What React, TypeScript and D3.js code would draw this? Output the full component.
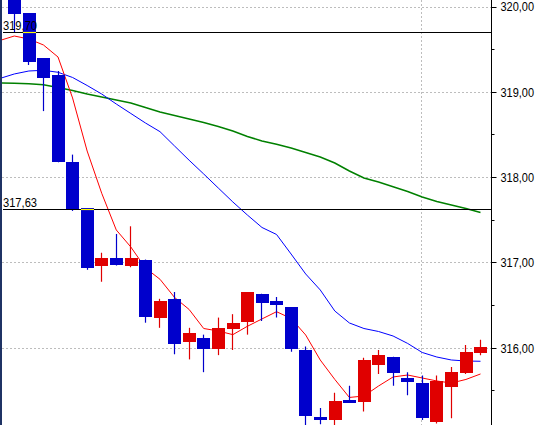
import React from "react";
import * as d3 from "d3";

const W = 539;
const H = 425;

// OHLC, one entry per visible candle (oldest first)
const opens = [
  320.2, 319.93, 319.4, 319.2, 318.18, 317.64, 316.96, 317.06, 316.96, 317.04,
  316.35, 316.58, 316.07, 316.12, 315.99, 316.23, 316.31, 316.64, 316.55, 316.48,
  315.98, 315.2, 315.16, 315.39, 315.37, 315.8, 315.9, 315.65, 315.59, 315.14,
  315.55, 315.71, 315.95,
];
const highs = [
  320.3, 319.93, 319.4, 319.25, 318.27, 317.64, 317.12, 317.34, 317.43, 317.04,
  316.58, 316.66, 316.24, 316.16, 316.36, 316.4, 316.66, 316.64, 316.6, 316.48,
  316.02, 315.3, 315.48, 315.56, 315.89, 315.98, 315.9, 315.72, 315.68, 315.68,
  315.78, 316.04, 316.1,
];
const lows = [
  319.7, 319.32, 318.78, 318.18, 317.61, 316.92, 316.78, 316.97, 316.95, 316.3,
  316.24, 315.93, 315.87, 315.72, 315.92, 315.98, 316.16, 316.32, 316.36, 315.96,
  315.08, 315.11, 315.08, 315.36, 315.26, 315.7, 315.56, 315.45, 315.16, 315.12,
  315.18, 315.7, 315.92,
];
const closes = [
  319.92, 319.36, 319.17, 318.18, 317.63, 316.94, 317.06, 316.98, 317.06, 316.37,
  316.55, 316.05, 316.18, 315.99, 316.24, 316.3, 316.66, 316.53, 316.51, 315.99,
  315.21, 315.16, 315.38, 315.36, 315.86, 315.92, 315.71, 315.61, 315.18, 315.62,
  315.72, 315.96, 316.02,
];

// Moving averages, first value belongs to the candle just before the visible window
const maStartIndex = -1;
const maFast = [
  319.607, 319.66, 319.625, 319.555, 319.414, 318.934, 318.312, 317.817, 317.387,
  317.187, 316.941, 316.809, 316.596, 316.455, 316.232, 316.203, 316.16, 316.258,
  316.344, 316.429, 316.35, 316.156, 315.863, 315.635, 315.424, 315.441, 315.558,
  315.664, 315.687, 315.652, 315.617, 315.593, 315.635, 315.699,
];
const maMid = [
  319.162, 319.215, 319.25, 319.258, 319.235, 319.174, 319.08, 318.98, 318.863,
  318.752, 318.641, 318.539, 318.371, 318.204, 318.043, 317.879, 317.715, 317.562,
  317.416, 317.334, 317.105, 316.871, 316.684, 316.437, 316.297, 316.232, 316.197,
  316.144, 316.057, 315.951, 315.898, 315.863, 315.851, 315.848,
];
const maSlow = [
  319.109, 319.106, 319.1, 319.089, 319.057, 319.021, 318.98, 318.945, 318.91,
  318.875, 318.822, 318.77, 318.728, 318.687, 318.646, 318.6, 318.547, 318.482,
  318.43, 318.391, 318.348, 318.295, 318.242, 318.172, 318.078, 317.996, 317.949,
  317.894, 317.838, 317.773, 317.721, 317.68, 317.639, 317.592,
];

const yTicks = [320, 319, 318, 317, 316];
const yTickLabels = ["320,00", "319,00", "318,00", "317,00", "316,00"];
const yMinorTicks = [319.5, 318.5, 317.5, 316.5, 315.5];
const refLevels = [319.7, 317.63];
const refLabels = ["319,70", "317,63"];
const sessionBreakIndex = 28;

const BLUE = "#0000cc";
const RED = "#e00000";
const FONT = "'Liberation Sans', Arial, sans-serif";

export default function App() {
  const plotLeft = 2;
  const axisX = 491.5;
  const x = d3.scaleLinear().domain([0, 32]).range([14.3, 480.5]);
  const y = d3.scaleLinear().domain([316, 320]).range([348.3, 7]);
  const crisp = (v: number) => Math.round(v) + 0.5;

  const maLine = (vals: number[]) =>
    d3
      .line<number>()
      .x((_, i) => x(i + maStartIndex))
      .y((v) => y(v))(vals) || "";

  const candles = opens.map((o, i) => ({
    o,
    h: highs[i],
    l: lows[i],
    c: closes[i],
    i,
  }));

  return (
    <svg
      width={W}
      height={H}
      style={{ position: "absolute", left: 0, top: 0, display: "block", background: "#fff" }}
    >
      <defs>
        <clipPath id="plot">
          <rect x={plotLeft} y={0} width={axisX - plotLeft} height={H} />
        </clipPath>
      </defs>
      <rect x={0} y={0} width={W} height={H} fill="#fff" />

      <g clipPath="url(#plot)">
        {/* grid */}
        {yTicks.map((t) => (
          <line
            key={"g" + t}
            x1={plotLeft}
            x2={axisX}
            y1={crisp(y(t) - 0.5)}
            y2={crisp(y(t) - 0.5)}
            stroke="#bdbdbd"
            strokeDasharray="2,2"
          />
        ))}
        <line
          x1={crisp(x(sessionBreakIndex) - 1)}
          x2={crisp(x(sessionBreakIndex) - 1)}
          y1={0}
          y2={H}
          stroke="#bdbdbd"
          strokeDasharray="2,2"
        />

        {/* moving averages */}
        <path d={maLine(maSlow)} fill="none" stroke="#008000" strokeWidth={1.5} />
        <path d={maLine(maMid)} fill="none" stroke="#0000ff" strokeWidth={1} />
        <path d={maLine(maFast)} fill="none" stroke="#ff0000" strokeWidth={1} />

        {/* candles */}
        {candles.map((d) => {
          const col = d.c >= d.o ? RED : BLUE;
          const cx = crisp(x(d.i) - 0.5);
          const top = Math.round(y(Math.max(d.o, d.c)));
          const bot = Math.round(y(Math.min(d.o, d.c)));
          const left = Math.round(x(d.i) - 6.3);
          return (
            <g key={d.i}>
              <line x1={cx} x2={cx} y1={y(d.h)} y2={y(d.l)} stroke={col} strokeWidth={1.2} />
              <rect x={left} y={top} width={13} height={Math.max(2, bot - top)} fill={col} />
            </g>
          );
        })}

        {/* reference levels */}
        {refLevels.map((lv, k) => {
          const yy = crisp(y(lv) - 0.5);
          return (
            <g key={"r" + k}>
              <line x1={3} x2={axisX} y1={yy} y2={yy} stroke="#000" strokeWidth={1.2} />
              {candles
                .filter((d) => Math.min(d.o, d.c) < lv && Math.max(d.o, d.c) > lv)
                .map((d) => (
                  <line
                    key={"yx" + d.i}
                    x1={Math.round(x(d.i) - 6.3)}
                    x2={Math.round(x(d.i) - 6.3) + 13}
                    y1={yy}
                    y2={yy}
                    stroke="#ffff00"
                    strokeWidth={1.2}
                  />
                ))}
              <text
                x={3}
                y={yy - 2.5}
                fontFamily={FONT}
                fontSize={13}
                textLength={34}
                lengthAdjust="spacingAndGlyphs"
                fill="#000"
              >
                {refLabels[k]}
              </text>
            </g>
          );
        })}
      </g>

      {/* left border */}
      <rect x={0} y={0} width={2} height={H} fill="#1f3364" />

      {/* right axis */}
      <line x1={axisX} x2={axisX} y1={0} y2={H} stroke="#000" strokeWidth={1} />
      {yTicks.map((t, k) => (
        <g key={"t" + t}>
          <line x1={axisX} x2={axisX + 5} y1={crisp(y(t) - 0.5)} y2={crisp(y(t) - 0.5)} stroke="#000" />
          <text
            x={500.5}
            y={y(t) + 4.3}
            fontFamily={FONT}
            fontSize={13}
            textLength={33.5}
            lengthAdjust="spacingAndGlyphs"
            fill="#000"
          >
            {yTickLabels[k]}
          </text>
        </g>
      ))}
      {yMinorTicks.map((t) => (
        <line
          key={"m" + t}
          x1={axisX}
          x2={axisX + 3}
          y1={crisp(y(t) - 0.5)}
          y2={crisp(y(t) - 0.5)}
          stroke="#000"
        />
      ))}
    </svg>
  );
}
